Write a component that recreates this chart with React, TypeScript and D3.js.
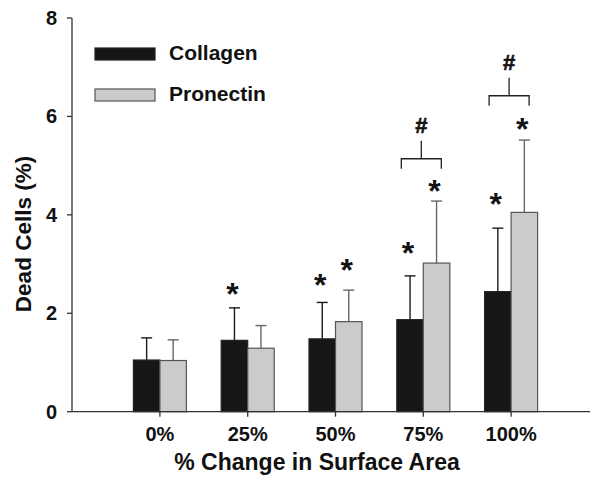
import React from "react";
import * as d3 from "d3";

const categories = ["0%", "25%", "50%", "75%", "100%"];
const seriesNames = ["Collagen", "Pronectin"];
const collagen = [1.05, 1.45, 1.48, 1.87, 2.44];
const collagenErr = [0.45, 0.66, 0.74, 0.89, 1.29];
const pronectin = [1.04, 1.29, 1.83, 3.02, 4.05];
const pronectinErr = [0.42, 0.46, 0.64, 1.26, 1.47];
const collagenStars = [null, 2.54, 2.71, 3.37, 4.37];
const pronectinStars = [null, null, 3.02, 4.62, 5.89];
const bracketLevels = [null, null, null, 5.14, 6.42];
const yTicks = [0, 2, 4, 6, 8];

const W = 590;
const H = 481;
const FONT = "'Liberation Sans', Arial, Helvetica, sans-serif";

export default function App() {
  const y = d3.scaleLinear().domain([0, 8]).range([411.7, 18]);
  const x = d3.scaleBand().domain(categories).range([116, 555]).padding(0);
  const barW = 26.5;
  const axisX = 72;
  const y0 = y(0);

  const series = [
    { name: seriesNames[0], vals: collagen, err: collagenErr, stars: collagenStars, fill: "#161616", stroke: "#222", errColor: "#1a1a1a", off: -barW },
    { name: seriesNames[1], vals: pronectin, err: pronectinErr, stars: pronectinStars, fill: "#cbcbcb", stroke: "#555", errColor: "#666", off: 0 },
  ];

  const center = (c: string) => (x(c) as number) + x.bandwidth() / 2;

  return (
    <svg width={W} height={H} style={{ display: "block", position: "absolute", left: 0, top: 0 }} fontFamily={FONT} fontWeight="bold">
      <rect width={W} height={H} fill="#fff" />
      {/* bars */}
      {series.map((s, si) =>
        categories.map((c, i) => {
          const bx = center(c) + s.off;
          const top = y(s.vals[i]);
          const et = y(s.vals[i] + s.err[i]);
          const cx = bx + barW / 2;
          return (
            <g key={`${si}-${i}`}>
              <line x1={cx} x2={cx} y1={top} y2={et} stroke={s.errColor} strokeWidth={1.4} />
              <line x1={cx - 5.5} x2={cx + 5.5} y1={et} y2={et} stroke={s.errColor} strokeWidth={1.4} />
              <rect x={bx} y={top} width={barW} height={y0 - top} fill={s.fill} stroke={s.stroke} strokeWidth={1.2} />
              {s.stars[i] != null && (
                <text x={cx - 2} y={y(s.stars[i] as number) + 18} fontSize={32} textAnchor="middle" fill="#111">*</text>
              )}
            </g>
          );
        })
      )}
      {/* brackets */}
      {categories.map((c, i) => {
        const lv = bracketLevels[i];
        if (lv == null) return null;
        const cx = center(c) - 2;
        const by = y(lv);
        return (
          <g key={`b-${i}`}>
            <path d={`M${cx - 20},${by + 10}V${by}H${cx + 20}V${by + 10}`} stroke="#222" strokeWidth={1.3} fill="none" />
            <line x1={cx} x2={cx} y1={by} y2={by - 18} stroke="#222" strokeWidth={1.3} />
            <text x={cx} y={by - 25.5} fontSize={22} textAnchor="middle" fill="#111" stroke="#111" strokeWidth={0.6}>#</text>
          </g>
        );
      })}
      {/* y axis */}
      <line x1={axisX} x2={axisX} y1={y(8)} y2={y0} stroke="#333" strokeWidth={1.3} />
      {yTicks.map((t) => (
        <g key={`yt-${t}`}>
          <line x1={axisX - 5} x2={axisX} y1={y(t)} y2={y(t)} stroke="#333" strokeWidth={1.3} />
          <text x={57} y={y(t) + 7} fontSize={20} textAnchor="end" fill="#111">{t}</text>
        </g>
      ))}
      {/* x axis */}
      <line x1={axisX} x2={W} y1={y0} y2={y0} stroke="#333" strokeWidth={1.3} />
      {categories.map((c) => (
        <g key={`xt-${c}`}>
          <line x1={center(c)} x2={center(c)} y1={y0} y2={y0 + 5} stroke="#333" strokeWidth={1.3} />
          <text x={center(c)} y={441} fontSize={20} textAnchor="middle" fill="#111">{c}</text>
        </g>
      ))}
      {/* axis titles */}
      <text x={317} y={470} fontSize={23} textAnchor="middle" fill="#111">% Change in Surface Area</text>
      <text transform="translate(31,234) rotate(-90)" fontSize={22.5} textAnchor="middle" fill="#111">Dead Cells (%)</text>
      {/* legend */}
      {series.map((s, si) => (
        <g key={`lg-${si}`} transform={`translate(95,${48 + si * 41})`}>
          <rect x={0} y={0} width={60} height={12} fill={s.fill} stroke={s.stroke} strokeWidth={1.2} />
          <text x={74} y={12} fontSize={21} fill="#111">{s.name}</text>
        </g>
      ))}
    </svg>
  );
}
